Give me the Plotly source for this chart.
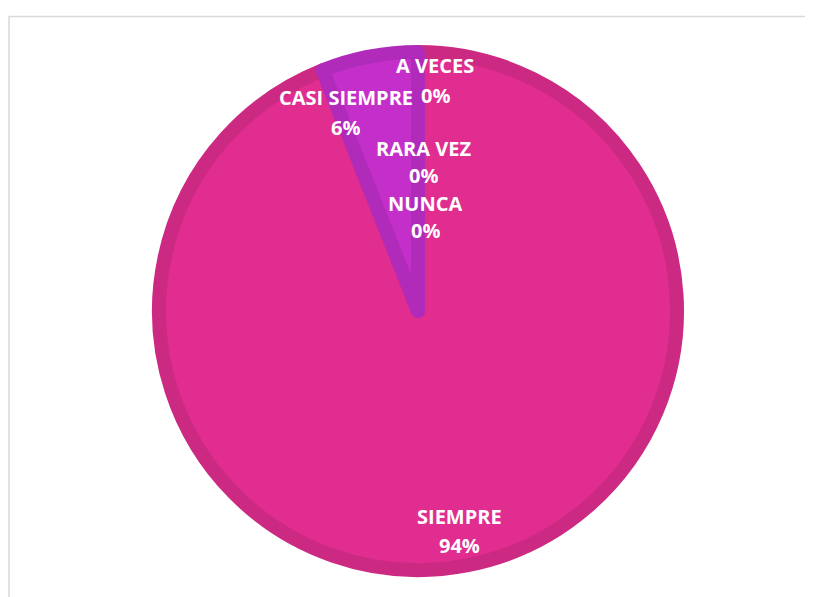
import plotly.graph_objects as go

categories = ["SIEMPRE", "CASI SIEMPRE", "A VECES", "RARA VEZ", "NUNCA"]
values = [94, 6, 0, 0, 0]
fill_colors = ["#E02D8F", "#C52FC9", "#9B3FD0", "#8A44C8", "#7A4AC0"]
band_colors = ["#CC2A82", "#B02BBA", "#8A38BD", "#7A3CB5", "#6A42AD"]

# label anchor positions (pixels from top-left of page) for name / percent lines
label_pos = {
    "SIEMPRE": (459, 516, 459, 545),
    "CASI SIEMPRE": (346, 97, 345, 127),
    "A VECES": (435, 65, 435, 95),
    "RARA VEZ": (423, 148, 423, 175),
    "NUNCA": (425, 203, 425, 230),
}

W, H = 813, 597
OFF = 8  # page body margin
LW = 14
cx, cy, r = 418 - OFF, 311 - OFF, 266 - LW / 2

total = sum(values)
fig = go.Figure()
fig.add_trace(go.Pie(
    labels=categories, values=values, sort=False, direction="clockwise", rotation=0,
    marker=dict(colors=fill_colors,
                line=dict(color=band_colors, width=[LW if v > 0 else 0 for v in values])),
    textinfo="none", hoverinfo="label+percent", showlegend=False,
    domain=dict(x=[(cx - r) / W, (cx + r) / W], y=[(H - cy - r) / H, (H - cy + r) / H]),
))

annotations = []
for cat, v in zip(categories, values):
    x1, y1, x2, y2 = label_pos[cat]
    pct = f"{round(100 * v / total)}%"
    for txt, x, y in ((cat, x1, y1), (pct, x2, y2)):
        annotations.append(dict(
            text=f"<b>{txt}</b>", x=(x - OFF) / W, y=1 - (y - OFF) / H,
            xref="paper", yref="paper",
            xanchor="center", yanchor="middle", showarrow=False,
            height=22, borderpad=0,
            font=dict(family="Open Sans, sans-serif", size=20, color="white"),
        ))

fig.update_layout(
    width=W, height=H, margin=dict(l=0, r=0, t=0, b=0),
    paper_bgcolor="white", plot_bgcolor="white",
    annotations=annotations,
    shapes=[dict(type="rect", xref="paper", yref="paper",
                 x0=1 / W, x1=1.05, y0=-0.05, y1=1 - 8.5 / H,
                 line=dict(color="#D9D9D9", width=1.5), layer="below")],
)
fig.write_html("out.html")
